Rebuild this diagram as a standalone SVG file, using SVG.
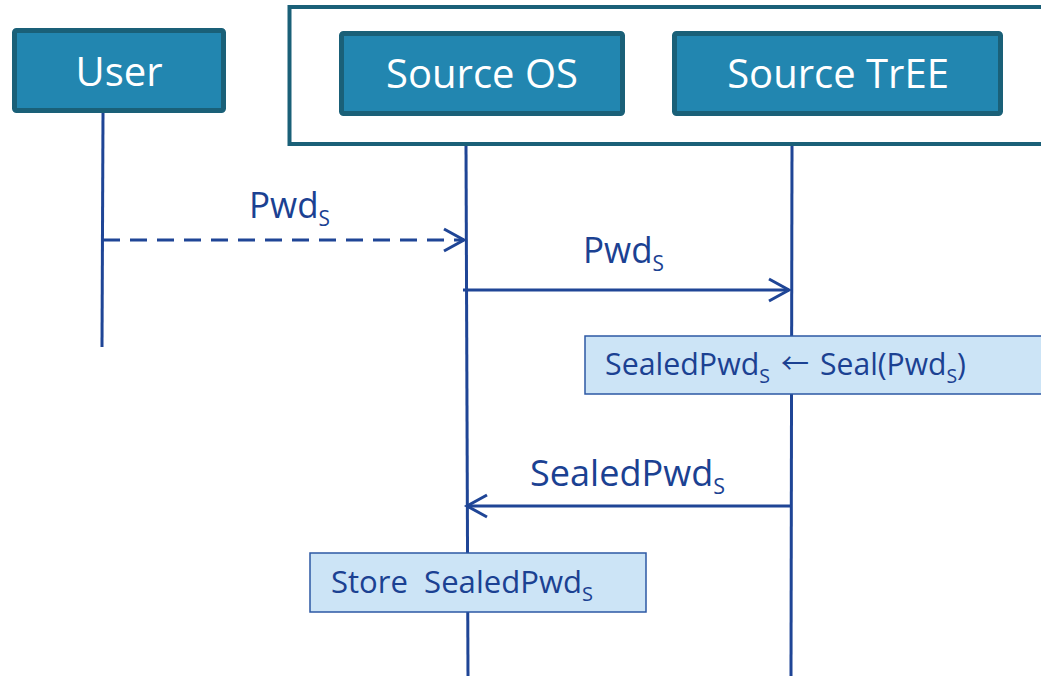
<svg xmlns="http://www.w3.org/2000/svg" width="1041" height="676" viewBox="0 0 1041 676">
  <style>
    .actor { fill: #2286b0; stroke: #1a6078; stroke-width: 5; }
    .actor-text { font-family: "Open Sans", "Liberation Sans", sans-serif; font-size: 40px; fill: #ffffff; text-anchor: middle; }
    .group { fill: none; stroke: #1a6078; stroke-width: 4; }
    .life { stroke: #1f4596; stroke-width: 3; fill: none; }
    .msg { stroke: #1f4596; stroke-width: 3; fill: none; }
    .label { font-family: "Open Sans", "Liberation Sans", sans-serif; font-size: 37px; fill: #1b4192; }
    .note { fill: #cce4f6; stroke: #2d58a4; stroke-width: 1.5; }
    .note-text { font-family: "Open Sans", "Liberation Sans", sans-serif; font-size: 31px; fill: #1b4192; }
    .label .sub { font-size: 22px; }
    .note-text .sub { font-size: 20px; }
    .arrow-glyph { font-family: "Noto Sans CJK SC", "DejaVu Sans", sans-serif; font-size: 28px; fill: #1b4192; }
  </style>
  <defs>
    <marker id="open-arrow" markerUnits="userSpaceOnUse" markerWidth="26" markerHeight="28" viewBox="-22 -13 26 26" refX="0" refY="0" orient="auto">
      <path d="M-20,-11 L0,0 L-20,11" fill="none" stroke="#1f4596" stroke-width="3"/>
    </marker>
  </defs>

  <!-- platform container around Source OS and Source TrEE -->
  <rect id="platform" class="group" x="289.5" y="7" width="800" height="137"/>

  <g id="user">
    <rect class="actor" x="14.5" y="30.5" width="209" height="80" rx="2"/>
    <text class="actor-text" x="119" y="86">User</text>
  </g>
  <g id="source-os">
    <rect class="actor" x="341.5" y="33.5" width="281" height="80" rx="2"/>
    <text class="actor-text" x="482" y="88">Source OS</text>
  </g>
  <g id="source-tree">
    <rect class="actor" x="674.5" y="33.5" width="326" height="80" rx="2"/>
    <text class="actor-text" x="838" y="88">Source TrEE</text>
  </g>

  <!-- lifelines -->
  <g id="lifelines">
    <line class="life" x1="103" y1="113" x2="102" y2="347"/>
    <line class="life" x1="466" y1="146" x2="468" y2="676"/>
    <line class="life" x1="792" y1="146" x2="791" y2="676"/>
  </g>

  <!-- messages -->
  <g id="connectors">
    <line class="msg" x1="103" y1="240" x2="464" y2="240" stroke-dasharray="17 10" marker-end="url(#open-arrow)"/>
    <line class="msg" x1="463" y1="290" x2="789" y2="290" marker-end="url(#open-arrow)"/>
    <line class="msg" x1="792" y1="506" x2="467" y2="506" marker-end="url(#open-arrow)"/>
    <text class="label" x="249" y="218" textLength="81" lengthAdjust="spacingAndGlyphs">Pwd<tspan class="sub" dy="8">S</tspan></text>
    <text class="label" x="583" y="263" textLength="81" lengthAdjust="spacingAndGlyphs">Pwd<tspan class="sub" dy="8">S</tspan></text>
    <text class="label" x="530" y="486" textLength="195" lengthAdjust="spacingAndGlyphs">SealedPwd<tspan class="sub" dy="8">S</tspan></text>
  </g>

  <g id="seal-step">
    <rect class="note" x="585" y="336" width="470" height="58"/>
    <text class="note-text" x="605" y="375" textLength="165" lengthAdjust="spacingAndGlyphs">SealedPwd<tspan class="sub" dy="8">S</tspan></text>
    <text class="arrow-glyph" x="781" y="374">←</text>
    <text class="note-text" x="820" y="375" textLength="146" lengthAdjust="spacingAndGlyphs">Seal(Pwd<tspan class="sub" dy="8">S</tspan><tspan dy="-8">)</tspan></text>
  </g>
  <g id="store-step">
    <rect class="note" x="310" y="553" width="336" height="59"/>
    <text class="note-text" x="331" y="593" textLength="262" lengthAdjust="spacingAndGlyphs" xml:space="preserve">Store  SealedPwd<tspan class="sub" dy="8">S</tspan></text>
  </g>
</svg>
